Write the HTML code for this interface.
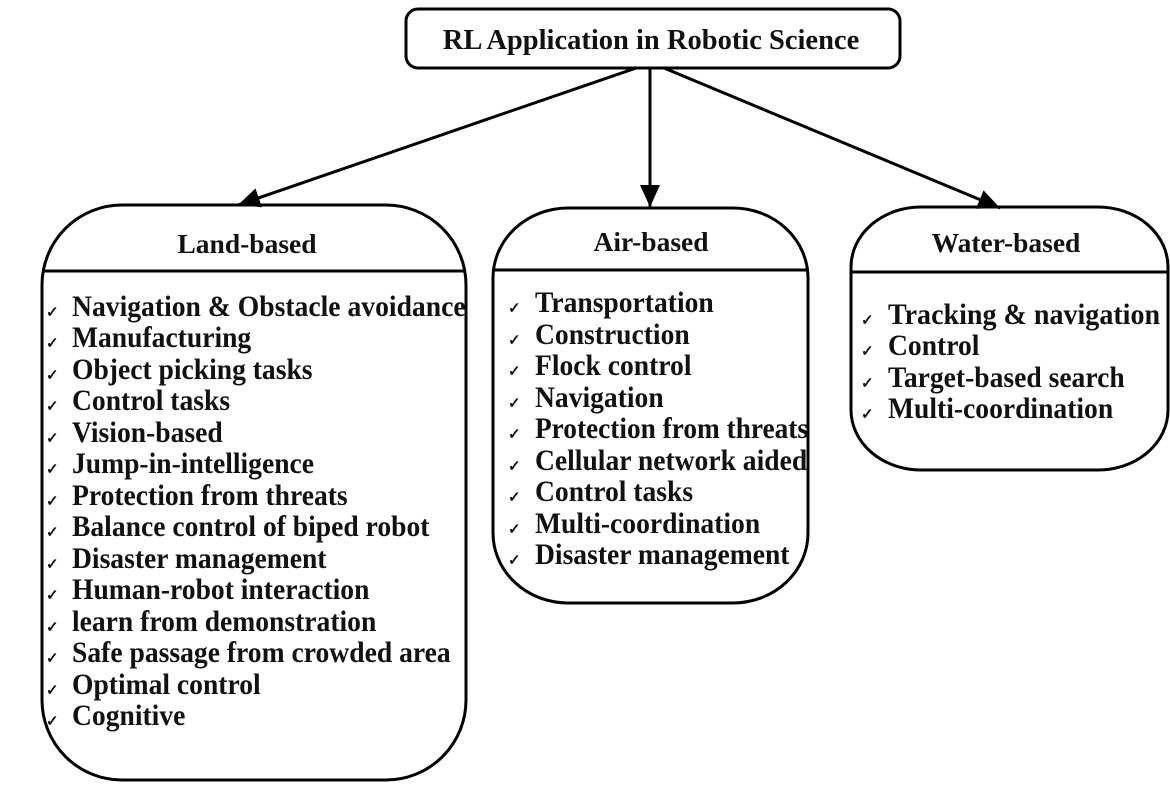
<!DOCTYPE html>
<html><head><meta charset="utf-8"><style>
html,body{margin:0;padding:0;background:#fff}
svg{display:block}
text{font-family:"Liberation Serif",serif;font-weight:bold;fill:#111}
.it{font-size:29.5px}
.ck{font-size:15px;font-weight:normal;fill:#555}
</style></head><body>
<svg width="1170" height="790" viewBox="0 0 1170 790">
<defs>
<marker id="b" markerWidth="22" markerHeight="20" refX="22" refY="10" orient="auto" markerUnits="userSpaceOnUse" viewBox="0 0 22 20"><path d="M0,0 L22,10 L0,20 z" fill="#000"/></marker></defs>
<rect x="406" y="9" width="494" height="59" rx="12" fill="#fff" stroke="#000" stroke-width="3"/>
<text x="651" y="49" font-size="28.5" text-anchor="middle">RL Application in Robotic Science</text>
<g stroke="#000" stroke-width="3" fill="none">
<line x1="636" y1="68" x2="238" y2="205" marker-end="url(#b)"/>
<line x1="650" y1="68" x2="650" y2="207" marker-end="url(#b)"/>
<line x1="664" y1="68" x2="1000" y2="208" marker-end="url(#b)"/>
<rect x="42" y="205" width="424" height="575" rx="80" ry="80"/>
<line x1="42" y1="271" x2="466" y2="271"/>
<rect x="493" y="208" width="315" height="395" rx="75" ry="70"/>
<line x1="493" y1="270" x2="808" y2="270"/>
<rect x="851" y="207" width="317" height="263" rx="70" ry="60"/>
<line x1="851" y1="272" x2="1168" y2="272"/>
</g>
<text x="247" y="253" font-size="27.5" text-anchor="middle">Land-based</text>
<text x="651" y="251" font-size="27.5" text-anchor="middle">Air-based</text>
<text x="1006" y="252" font-size="27.5" text-anchor="middle">Water-based</text>
<g class="it" transform="translate(72,0) scale(0.935,1)">
<text x="0" y="316" textLength="421" lengthAdjust="spacingAndGlyphs">Navigation &amp; Obstacle avoidance</text>
<text x="0" y="347">Manufacturing</text>
<text x="0" y="379">Object picking tasks</text>
<text x="0" y="410">Control tasks</text>
<text x="0" y="442">Vision-based</text>
<text x="0" y="473">Jump-in-intelligence</text>
<text x="0" y="505">Protection from threats</text>
<text x="0" y="536">Balance control of biped robot</text>
<text x="0" y="568">Disaster management</text>
<text x="0" y="599">Human-robot interaction</text>
<text x="0" y="631">learn from demonstration</text>
<text x="0" y="662" textLength="405" lengthAdjust="spacingAndGlyphs">Safe passage from crowded area</text>
<text x="0" y="694">Optimal control</text>
<text x="0" y="725">Cognitive</text>
</g>
<g class="it" transform="translate(535,0) scale(0.935,1)">
<text x="0" y="312">Transportation</text>
<text x="0" y="344">Construction</text>
<text x="0" y="375">Flock control</text>
<text x="0" y="407">Navigation</text>
<text x="0" y="438" textLength="292" lengthAdjust="spacingAndGlyphs">Protection from threats</text>
<text x="0" y="470">Cellular network aided</text>
<text x="0" y="501">Control tasks</text>
<text x="0" y="533">Multi-coordination</text>
<text x="0" y="564">Disaster management</text>
</g>
<g class="it" transform="translate(888,0) scale(0.935,1)">
<text x="0" y="324" textLength="291" lengthAdjust="spacingAndGlyphs">Tracking  &amp; navigation</text>
<text x="0" y="355">Control</text>
<text x="0" y="387">Target-based search</text>
<text x="0" y="418">Multi-coordination</text>
</g>
<g class="ck">
<text x="46" y="317">✓</text><text x="46" y="348">✓</text><text x="46" y="380">✓</text><text x="46" y="411">✓</text><text x="46" y="443">✓</text><text x="46" y="474">✓</text><text x="46" y="506">✓</text><text x="46" y="537">✓</text><text x="46" y="569">✓</text><text x="46" y="600">✓</text><text x="46" y="632">✓</text><text x="46" y="663">✓</text><text x="46" y="695">✓</text><text x="46" y="726">✓</text>
<text x="508" y="313">✓</text><text x="508" y="345">✓</text><text x="508" y="376">✓</text><text x="508" y="408">✓</text><text x="508" y="439">✓</text><text x="508" y="471">✓</text><text x="508" y="502">✓</text><text x="508" y="534">✓</text><text x="508" y="565">✓</text>
<text x="861" y="325">✓</text><text x="861" y="356">✓</text><text x="861" y="388">✓</text><text x="861" y="419">✓</text>
</g>
</svg>
</body></html>
